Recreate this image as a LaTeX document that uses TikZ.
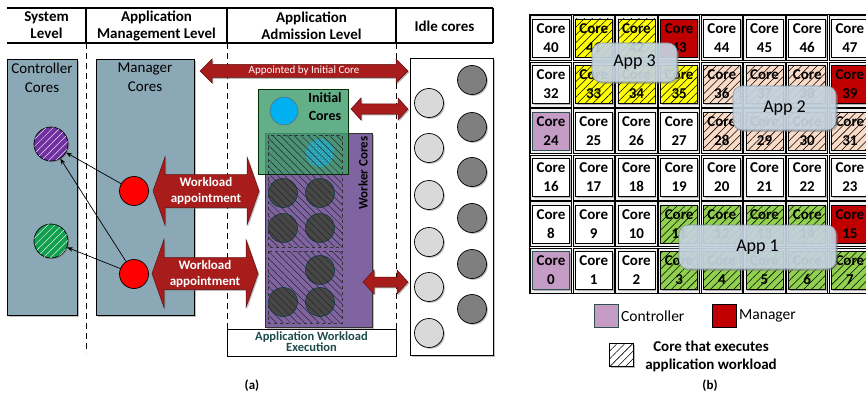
\documentclass[tikz,border=0pt]{standalone}
\usepackage{fontspec}
\setmainfont{Carlito}
\usetikzlibrary{shadows,patterns,patterns.meta,arrows.meta}
\definecolor{steel}{HTML}{8BA8B6}
\definecolor{arrred}{HTML}{A81C1C}
\definecolor{arrdark}{HTML}{5E0E0E}
\definecolor{ctrlpurple}{HTML}{7030A0}
\definecolor{ctrlgreen}{HTML}{12A050}
\definecolor{initgreen}{HTML}{3F9E6E}
\definecolor{workpurple}{HTML}{8064A2}
\definecolor{cyanb}{HTML}{00B0F0}
\definecolor{idlelight}{HTML}{D9D9D9}
\definecolor{idledark}{HTML}{7F7F7F}
\definecolor{execteal}{HTML}{1E4B4B}
\definecolor{cellyellow}{HTML}{FFFF00}
\definecolor{cellpeach}{HTML}{FADBC8}
\definecolor{cellgreen}{HTML}{92D050}
\definecolor{cellred}{HTML}{C00000}
\definecolor{cellpurple}{HTML}{C59CC6}
\definecolor{ctrlborder}{HTML}{2E5050}
\definecolor{appfill}{HTML}{C8D7E3}
\definecolor{appdraw}{HTML}{7F93A5}
\tikzset{
  shadowed/.style={drop shadow={shadow xshift=1.8pt,shadow yshift=-1.8pt,opacity=0.5}},
  smallshadow/.style={drop shadow={shadow xshift=1.3pt,shadow yshift=-1.3pt,opacity=0.55}},
  hatchcell/.style={postaction={pattern={Lines[angle=45,distance=5.5pt,line width=0.55pt]},pattern color=black}},
  yel/.style={fill=cellyellow,hatchcell},
  pch/.style={fill=cellpeach,hatchcell},
  grn/.style={fill=cellgreen,hatchcell},
  mgr/.style={fill=cellred},
  ctl/.style={fill=cellpurple,draw=ctrlborder},
  c41/.style=yel, c42/.style=yel, c33/.style=yel, c34/.style=yel, c35/.style=yel,
  c36/.style=pch, c37/.style=pch, c38/.style=pch, c28/.style=pch, c29/.style=pch, c30/.style=pch, c31/.style=pch,
  c11/.style=grn, c12/.style=grn, c13/.style=grn, c14/.style=grn,
  c3/.style=grn, c4/.style=grn, c5/.style=grn, c6/.style=grn, c7/.style=grn,
  c43/.style=mgr, c39/.style=mgr, c15/.style=mgr,
  c24/.style=ctl, c0/.style=ctl,
}
\newcommand\blockarr[6]{%
  \filldraw[fill=arrred,draw=arrdark,line width=0.5pt,smallshadow]
  (#1,#3) -- (#1+#6,#3-#5) -- (#1+#6,#3-#4) -- (#2-#6,#3-#4) -- (#2-#6,#3-#5) -- (#2,#3)
  -- (#2-#6,#3+#5) -- (#2-#6,#3+#4) -- (#1+#6,#3+#4) -- (#1+#6,#3+#5) -- cycle;}
\begin{document}
\begin{tikzpicture}[x=1pt,y=-1pt,
  hdr/.style={font=\fontsize{15}{17}\selectfont\bfseries,align=center,inner sep=0pt},
  boxtitle/.style={font=\fontsize{15}{19}\selectfont,align=center,inner sep=0pt},
  dashline/.style={dash pattern=on 6pt off 4pt,line width=1pt},
  coredot/.style={circle,minimum size=29pt,inner sep=0pt,draw=black,line width=0.7pt},
  wcore/.style={circle,minimum size=29pt,inner sep=0pt,fill=black!72,draw=teal!45!black,line width=0.5pt},
  wtext/.style={font=\fontsize{13}{16}\selectfont\bfseries,text=white,align=center,inner sep=0pt},
  linkarrow/.style={-{Stealth[length=6pt,width=4.5pt]},line width=0.7pt},
  corecell/.style={rectangle,minimum width=37pt,minimum height=38pt,inner sep=0pt,fill=white,draw=black,
     line width=0.7pt,align=center,font=\fontsize{15}{19}\selectfont\bfseries,smallshadow},
  cellframe/.style={draw=black,line width=0.9pt,fill=black!6},
  applabel/.style={rectangle,rounded corners=9pt,fill=appfill,fill opacity=0.88,text opacity=1,draw=appdraw,
     line width=0.6pt,font=\fontsize{18}{18}\selectfont,shadowed},
  legbox/.style={rectangle,minimum width=24pt,minimum height=23pt,inner sep=0pt,line width=0.8pt,smallshadow},
]
\useasboundingbox (0,0) rectangle (866,393);

% ---------- (a) header ----------
\draw[line width=1.2pt] (7,8) -- (493,8) (7,43) -- (493,43)
  (86,8) -- (86,43) (227,8) -- (227,43) (396,8) -- (396,43) (493,8) -- (493,43);
\node[hdr] (hsys) at (46.5,25.5) {System\\Level};
\node[hdr] (hmgmt) at (156.5,25.5) {Application\\Management Level};
\node[hdr] (hadm) at (311.5,25.5) {Application\\Admission Level};
\node[hdr] (hidle) at (444.5,26) {Idle cores};

\draw[dashline] (86,43) -- (86,353);
\draw[dashline] (227,43) -- (227,329);
\draw[dashline] (396,43) -- (396,329);

% controller / manager boxes
\filldraw[fill=steel,draw=black,line width=0.8pt,shadowed] (7,59) rectangle (77,315);
\filldraw[fill=steel,draw=black,line width=0.8pt,shadowed] (96,59) rectangle (194,315);
\node[boxtitle] (tctrl) at (42,77.5) {Controller\\Cores};
\node[boxtitle] (tmgr) at (145,77.5) {Manager\\Cores};

\node[coredot,minimum size=34pt,fill=ctrlpurple,smallshadow,
  postaction={pattern={Lines[angle=45,distance=5pt,line width=0.5pt]},pattern color=white!85!ctrlpurple}] (cp) at (51,144) {};
\node[coredot,minimum size=34pt,fill=ctrlgreen,smallshadow,
  postaction={pattern={Lines[angle=45,distance=5pt,line width=0.5pt]},pattern color=white!85!ctrlgreen}] (cg) at (51,241) {};
\node[coredot,fill=red] (m1) at (134,191) {};
\node[coredot,fill=red] (m2) at (134,274) {};
\draw[linkarrow] (m1) -- (cp);
\draw[linkarrow] (m2) -- (cp);
\draw[linkarrow] (m2) -- (cg);

% block arrows
\blockarr{200}{408}{71}{6.5}{12}{12}
\node[font=\fontsize{11}{11}\selectfont,text=white,inner sep=0pt] (tappt) at (304,71) {Appointed by Initial Core};
\blockarr{153}{259}{191}{16.5}{34}{12}
\node[wtext] (tw1) at (206,191) {Workload\\appointment};
\blockarr{152}{258}{273.5}{16}{34}{12}
\node[wtext] (tw2) at (205,273.5) {Workload\\appointment};
\blockarr{351}{408}{109}{5}{11}{10}

% worker cores
\filldraw[fill=workpurple,draw=black!80,line width=0.8pt,shadowed] (265,133) rectangle (372,327);
\foreach \p/\q [count=\k] in {283/193,320/193,283/228,320/228,320/270,283/302,320/302}
  \node[wcore] (w\k) at (\p,\q) {};
\filldraw[fill=initgreen,fill opacity=0.82,draw=black!70!green!60!black,line width=0.8pt] (258,89) rectangle (348,174);
\node[circle,minimum size=28pt,inner sep=0pt,fill=cyanb,draw=black!60,line width=0.5pt] (ib) at (284,111) {};
\node[circle,minimum size=28pt,inner sep=0pt,fill=cyanb,fill opacity=0.5,draw=none,
  postaction={pattern=crosshatch dots,pattern color=cyanb!40!white}] (wb) at (320,153) {};
\fill[pattern={Lines[angle=-45,distance=5pt,line width=0.5pt]},pattern color=black!85]
  (268,135) rectangle (342,247) (268,251) rectangle (342,323);
\draw[dashed,line width=0.8pt,black!80] (268,135) rectangle (342,247) (268,251) rectangle (342,323);
\node[font=\fontsize{14}{18}\selectfont\bfseries,align=center,inner sep=0pt] (tinit) at (325,107) {Initial\\Cores};
\node[rotate=90,font=\fontsize{13}{13}\selectfont\bfseries,inner sep=0pt] (twork) at (363,173) {Worker Cores};
\blockarr{363}{408}{282}{5}{12}{11}

% idle cores
\filldraw[fill=white,draw=black,line width=0.9pt,shadowed] (410,58) rectangle (493,355);
\foreach \q [count=\k] in {103,148,195,242,287,333}
  \node[coredot,fill=idlelight,smallshadow] (il\k) at (429,\q) {};
\foreach \q [count=\k] in {80,127,172,218,264,309}
  \node[coredot,fill=idledark,smallshadow] (id\k) at (472,\q) {};

% execution box
\filldraw[fill=white,draw=black,line width=0.8pt] (227,329) rectangle (396,356);
\node[font=\fontsize{12.5}{11}\selectfont\bfseries,text=execteal,align=center,inner sep=0pt] (texec) at (311.5,341.5) {Application Workload\\Execution};

\node[font=\fontsize{13}{13}\selectfont\bfseries,inner sep=0pt] (la) at (252,386) {(a)};

% ---------- (b) grid ----------
\begin{scope}
\clip (0,0) rectangle (866,393);
\foreach \r in {0,...,5}{
  \foreach \c in {0,...,7}{
    \pgfmathsetmacro\cx{551+42.7*\c}
    \pgfmathsetmacro\cy{38+46.5*\r}
    \pgfmathtruncatemacro\n{(5-\r)*8+\c}
    \draw[cellframe] (\cx-20.6,\cy-22.5) rectangle (\cx+20.6,\cy+22.5);
    \edef\tmpcell{\noexpand\node[corecell,c\n/.try] (core\n) at (\cx,\cy) {Core\noexpand\\\n};}
    \tmpcell
  }
}
\draw[line width=1.3pt] (529.6,14.75) rectangle (880,293.75);
\node[applabel,minimum width=85pt,minimum height=39pt] (app3) at (634.5,62.5) {App 3};
\node[applabel,minimum width=103pt,minimum height=44pt] (app2) at (784.5,108) {App 2};
\node[applabel,minimum width=157pt,minimum height=44pt] (app1) at (757.5,247) {App 1};
\end{scope}

% legend
\node[legbox,fill=cellpurple,draw=ctrlborder] (lgc) at (606,315.5) {};
\node[anchor=west,font=\fontsize{15.5}{15.5}\selectfont,inner sep=0pt] (lgct) at (621,316) {Controller};
\node[legbox,fill=cellred,draw=black] (lgm) at (724,315.5) {};
\node[anchor=west,font=\fontsize{15.5}{15.5}\selectfont,inner sep=0pt] (lgmt) at (739,316) {Manager};
\node[legbox,fill=white,draw=black,hatchcell] (lgh) at (621.5,355) {};
\node[font=\fontsize{15}{18}\selectfont\bfseries,align=center,inner sep=0pt] (lght) at (711,356) {Core that executes\\application workload};
\node[font=\fontsize{13}{13}\selectfont\bfseries,inner sep=0pt] (lb) at (710,386) {(b)};
\end{tikzpicture}
\end{document}
